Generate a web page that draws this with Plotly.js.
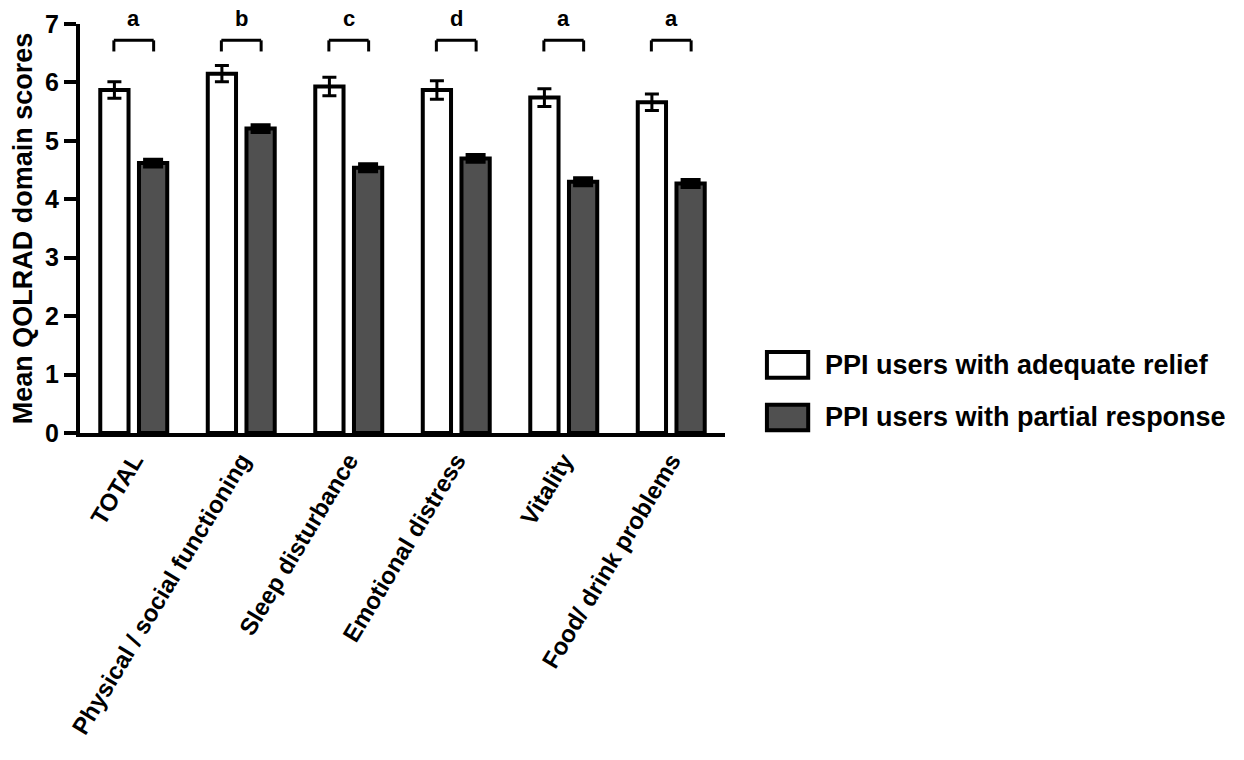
<!DOCTYPE html>
<html>
<head>
<meta charset="utf-8">
<script src="https://cdn.plot.ly/plotly-3.0.1.min.js"></script>
<style>html,body{margin:0;padding:0;background:#fff;}#chart{width:1244px;height:760px;}</style>
</head>
<body>
<div id="chart"></div>
<script>
// ---- data ----
const categories = ["TOTAL", "Physical / social functioning", "Sleep disturbance", "Emotional distress", "Vitality", "Food/ drink problems"];
const adequateMean = [5.87, 6.15, 5.93, 5.87, 5.74, 5.66];
const adequateSE   = [0.14, 0.14, 0.16, 0.16, 0.15, 0.14];
const partialMean  = [4.62, 5.21, 4.54, 4.70, 4.30, 4.27];
const partialSE    = [0.05, 0.05, 0.05, 0.05, 0.05, 0.05];
const sigLetters   = ["a", "b", "c", "d", "a", "a"];
const seriesNames  = ["PPI users with adequate relief", "PPI users with partial response"];
const yTicks = [0, 1, 2, 3, 4, 5, 6, 7];

// ---- style ----
const FONT = "Liberation Sans, Arial, Helvetica, sans-serif";
const GRAY = "#505050";

const traces = [
  {
    type: "bar", name: seriesNames[0], x: categories, y: adequateMean,
    marker: {color: "#ffffff", line: {color: "#000", width: 4}},
    error_y: {type: "data", array: adequateSE, visible: true, color: "#000", thickness: 3, width: 7}
  },
  {
    type: "bar", name: seriesNames[1], x: categories, y: partialMean,
    marker: {color: GRAY, line: {color: "#000", width: 4}},
    error_y: {type: "data", array: partialSE, visible: true, color: "#000", thickness: 5, width: 10}
  }
];

const shapes = [];
const annotations = [];
const half = 0.185, yLow = 6.53, yHigh = 6.72;
categories.forEach((c, i) => {
  const ln = {color: "#000", width: 3};
  shapes.push({type: "line", xref: "x", yref: "y", x0: i - half, x1: i + half, y0: yHigh, y1: yHigh, line: ln});
  shapes.push({type: "line", xref: "x", yref: "y", x0: i - half, x1: i - half, y0: yLow, y1: yHigh, line: ln});
  shapes.push({type: "line", xref: "x", yref: "y", x0: i + half, x1: i + half, y0: yLow, y1: yHigh, line: ln});
  annotations.push({
    x: c, xref: "x", y: 1, yref: "paper", yanchor: "middle", yshift: 6,
    text: sigLetters[i], showarrow: false,
    font: {family: FONT, size: 22, weight: "bold", color: "#000"}
  });
});

// manual legend (large swatches)
const legendFills = ["#ffffff", GRAY];
const legendY = [[0.135, 0.198], [0.007, 0.069]];
seriesNames.forEach((n, k) => {
  shapes.push({type: "rect", xref: "paper", yref: "paper", x0: 1.065, x1: 1.129,
    y0: legendY[k][0], y1: legendY[k][1], fillcolor: legendFills[k], line: {color: "#000", width: 4}});
  annotations.push({
    xref: "paper", yref: "paper", x: 1.152, y: (legendY[k][0] + legendY[k][1]) / 2,
    xanchor: "left", yanchor: "middle", text: n, showarrow: false,
    font: {family: FONT, size: 27, weight: "bold", color: "#000"}
  });
});

const layout = {
  width: 1244, height: 760,
  margin: {l: 80, r: 519, t: 24, b: 327, pad: 0},
  paper_bgcolor: "#fff", plot_bgcolor: "#fff",
  showlegend: false,
  barmode: "group", bargap: 0.28, bargroupgap: 0.27,
  font: {family: FONT, color: "#000"},
  xaxis: {
    type: "category", range: [-0.5, 5.5],
    showline: true, linecolor: "#000", linewidth: 4,
    ticks: "", showgrid: false, zeroline: false,
    tickangle: -59,
    tickfont: {family: FONT, size: 24, weight: "bold", color: "#000"}
  },
  yaxis: {
    range: [0, 7], tickvals: yTicks,
    showline: true, linecolor: "#000", linewidth: 4,
    ticks: "outside", ticklen: 12, tickwidth: 4, tickcolor: "#000",
    showgrid: false, zeroline: false,
    tickfont: {family: FONT, size: 25, weight: "bold", color: "#000"},
    title: {text: "Mean QOLRAD domain scores", standoff: 6,
            font: {family: FONT, size: 27, weight: "bold", color: "#000"}}
  },
  shapes: shapes,
  annotations: annotations
};

Plotly.newPlot("chart", traces, layout, {staticPlot: true, displayModeBar: false});
</script>
</body>
</html>
